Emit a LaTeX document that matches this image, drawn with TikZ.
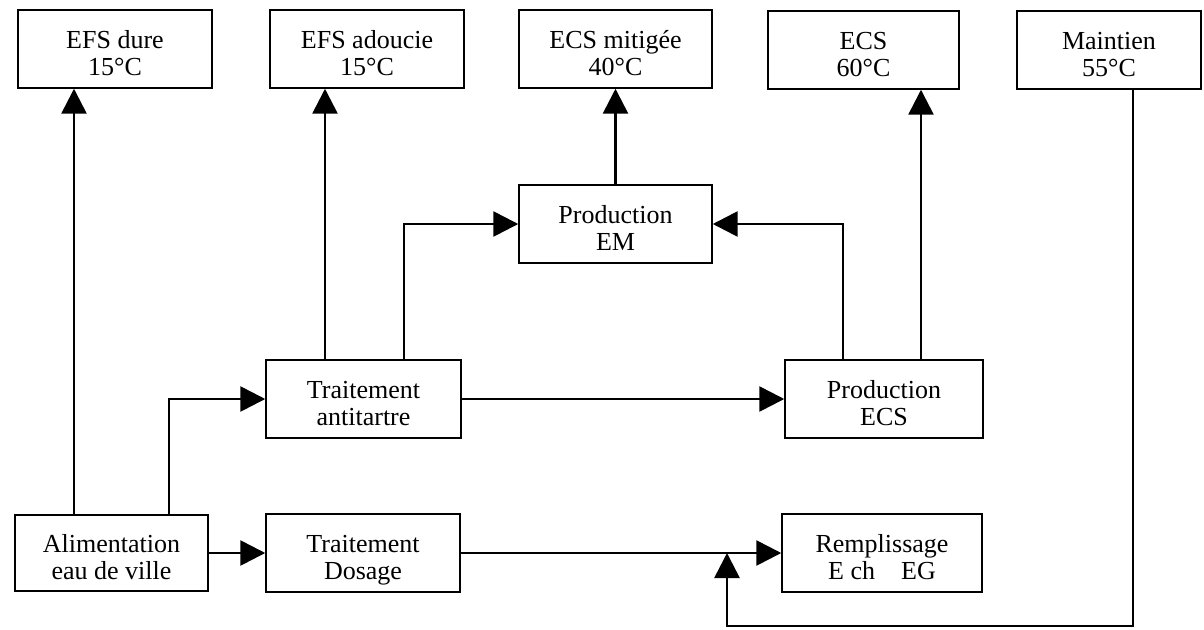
\documentclass[tikz,border=0pt]{standalone}
\usepackage{fontspec}
\setmainfont{Liberation Serif}
\usetikzlibrary{arrows.meta}
\newcommand{\twol}[2]{\raisebox{-11pt}[0pt][0pt]{\begin{tabular}{@{}c@{}}#1\\#2\end{tabular}}}
\tikzset{
  box/.style={draw, line width=1.1pt, inner sep=0pt, minimum width=145.5pt, minimum height=58.5pt,
    font=\fontsize{19.5}{20.6}\selectfont},
  conn/.style={line width=2pt},
  arr/.style={conn, -{Triangle[length=18.75pt,width=18.75pt]}}
}
\begin{document}
\begin{tikzpicture}[x=0.75pt,y=-0.75pt]
\useasboundingbox (0,0) rectangle (1204,629);
% top row
\node[box] (efsd) at (115,49) {\twol{EFS dure}{15°C}};
\node[box] (efsa) at (367,49) {\twol{EFS adoucie}{15°C}};
\node[box, minimum width=144.75pt] (ecsm) at (615.5,49) {\twol{ECS mitigée}{40°C}};
\node[box, minimum width=143.25pt] (ecs) at (863.5,50) {\twol{ECS}{60°C}};
\node[box, minimum width=138pt] (maint) at (1109,50) {\twol{Maintien}{55°C}};
% middle
\node[box, minimum width=144.75pt] (pem) at (615.5,224) {\twol{Production}{EM}};
\node[box, minimum width=146.25pt] (anti) at (363.5,399) {\twol{Traitement}{antitartre}};
\node[box, minimum width=148.5pt] (pecs) at (884,399) {\twol{Production}{ECS}};
% bottom
\node[box, minimum width=144.75pt, minimum height=57pt] (alim) at (111.5,553) {\twol{Alimentation}{eau de ville}};
\node[box] (dos) at (363,553) {\twol{Traitement}{Dosage}};
\node[box, minimum width=150pt] (remp) at (882,553) {\twol{Remplissage}{E ch\quad EG}};
% connector columns
\coordinate (c1) at (74,0);
\coordinate (c2) at (169,0);
\coordinate (c3) at (325,0);
\coordinate (c4) at (404,0);
\coordinate (c6) at (843,0);
\coordinate (c7) at (921,0);
\coordinate (c8) at (1133,0);
\coordinate (c9) at (727,0);
\coordinate (m1) at (727,626);
% connectors
\draw[arr] (alim.north -| c1) -- (efsd.south -| c1);
\draw[arr] (alim.north -| c2) |- (anti.west);
\draw[arr] (alim.east) -- (dos.west);
\draw[arr] (dos.east) -- (remp.west);
\draw[arr] (anti.north -| c3) -- (efsa.south -| c3);
\draw[arr] (anti.north -| c4) |- (pem.west);
\draw[arr] (anti.east) -- (pecs.west);
\draw[arr] (pecs.north -| c6) |- (pem.east);
\draw[arr] (pecs.north -| c7) -- (ecs.south -| c7);
\draw[arr] (pem.north) -- (ecsm.south);
\draw[arr] (maint.south -| c8) |- (m1) -- (remp.west -| c9);
\end{tikzpicture}
\end{document}
